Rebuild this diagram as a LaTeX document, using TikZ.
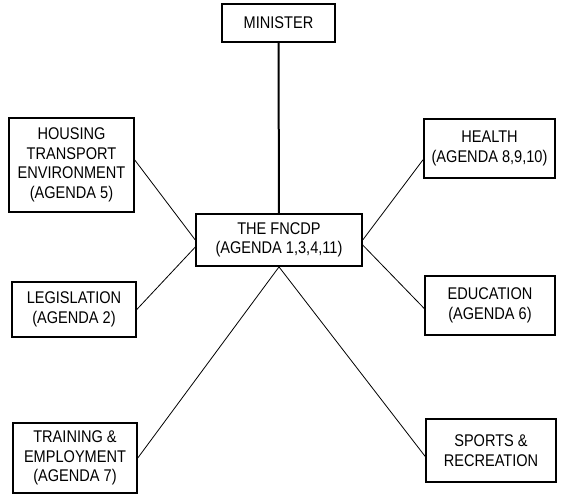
\documentclass[tikz,border=0pt]{standalone}
\usepackage{fontspec}
\setmainfont{Liberation Sans}[FakeStretch=0.86]
\begin{document}
\begin{tikzpicture}[x=1bp, y=-1bp, every node/.style={font=\fontsize{17}{19.6}\selectfont}]
  \tikzset{unit/.style={draw=black, line width=2bp, align=center, inner sep=0pt}, link/.style={draw=black, line width=.8bp}, chain/.style={draw=black, line width=2bp}}
  \useasboundingbox (0,0) rectangle (562,500);

  % centre and the minister above it
  \node[unit, minimum width=113, minimum height=38] (minister) at (278.5,23) {MINISTER};
  \node[unit, minimum width=166, minimum height=52] (fncdp) at (279,240) {THE FNCDP\\(AGENDA 1,3,4,11)};

  % left column
  \node[unit, minimum width=125, minimum height=94] (housing) at (71.5,165) {HOUSING\\TRANSPORT\\ENVIRONMENT\\(AGENDA 5)};
  \node[unit, minimum width=124, minimum height=55] (legis) at (74,309.5) {LEGISLATION\\(AGENDA 2)};
  \node[unit, minimum width=124, minimum height=70] (train) at (75,458) {TRAINING \&\\EMPLOYMENT\\(AGENDA 7)};

  % right column
  \node[unit, minimum width=131, minimum height=59] (health) at (489.5,148.5) {HEALTH\\(AGENDA 8,9,10)};
  \node[unit, minimum width=130, minimum height=59] (educ) at (490,305.5) {EDUCATION\\(AGENDA 6)};
  \node[unit, minimum width=130, minimum height=63] (sports) at (491,450.5) {SPORTS \&\\RECREATION};

  % connectors
  \draw[chain] (minister) -- (fncdp);
  \draw[link] ([yshift=5bp]housing.east) -- (fncdp.west);
  \draw[link] ([yshift=-7bp]fncdp.west) -- (legis.east);
  \draw[link] (fncdp.east) -- ([yshift=-11bp]health.west);
  \draw[link] ([yshift=-5bp]fncdp.east) -- ([yshift=-3bp]educ.west);
  \draw[link] (fncdp.south) -- (train.east);
  \draw[link] (fncdp.south) -- ([yshift=-6bp]sports.west);
\end{tikzpicture}
\end{document}
